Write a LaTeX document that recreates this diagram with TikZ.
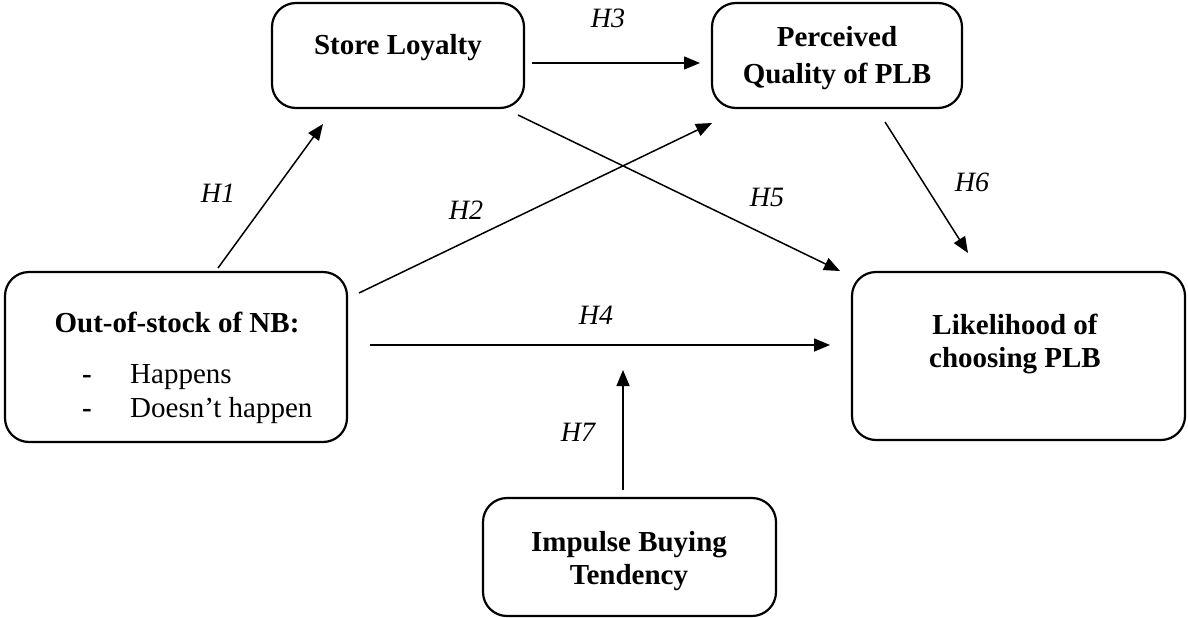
\documentclass[tikz,border=0pt]{standalone}
\usepackage{fontspec}
\setmainfont{Liberation Serif}
\usetikzlibrary{arrows.meta}
\begin{document}
\begin{tikzpicture}[x=1pt,y=-1pt,
  box/.style={draw, line width=2.2pt, rounded corners=24pt, inner sep=0pt},
  btext/.style={font=\fontsize{29}{33}\selectfont\bfseries, align=center, inner sep=0pt},
  ltext/.style={font=\fontsize{29}{33}\selectfont, inner sep=0pt},
  hlab/.style={font=\fontsize{28}{33}\selectfont\itshape, inner sep=0pt},
  arr/.style={line width=1.5pt, -{Triangle[length=16pt,width=13pt]}}]
\useasboundingbox (0,0) rectangle (1188,618);

% boxes
\node[box, minimum width=252pt, minimum height=105pt] (SL) at (398,55.5) {};
\node[btext, anchor=base] (SLt) at (398,55) {Store Loyalty};

\node[box, minimum width=250pt, minimum height=105pt] (PQ) at (837,55.5) {};
\node[btext] (PQt) at (837,58.5) {Perceived\\[4pt]Quality of PLB};

\node[box, minimum width=342pt, minimum height=170pt] (OOS) at (176,357) {};
\node[btext, anchor=base] (OOSt) at (177,332) {Out-of-stock of NB:};
\node[btext, anchor=base west] (d1) at (82,383) {-};
\node[btext, anchor=base west] (d2) at (82,417) {-};
\node[ltext, anchor=base west] (i1) at (130,383) {Happens};
\node[ltext, anchor=base west] (i2) at (130,417) {Doesn’t happen};

\node[box, minimum width=333pt, minimum height=168pt] (LK) at (1018.5,356) {};
\node[btext] (LKt) at (1015,344) {Likelihood of\\choosing PLB};

\node[box, minimum width=293pt, minimum height=118pt] (IB) at (629.5,557) {};
\node[btext] (IBt) at (629,561.5) {Impulse Buying\\Tendency};

% connector end points
\coordinate (h1s) at (218,268);  \coordinate (h1e) at (323,124);
\coordinate (h2s) at (359,293);  \coordinate (h2e) at (712,123);
\coordinate (h3s) at (532,63);   \coordinate (h3e) at (700,63);
\coordinate (h4s) at (370,345);  \coordinate (h4e) at (830,345);
\coordinate (h5s) at (518,115);  \coordinate (h5e) at (840,271);
\coordinate (h6s) at (885,122);  \coordinate (h6e) at (968,253);
\coordinate (h7s) at (623,490);  \coordinate (h7e) at (623,370);

\draw[arr] (h1s) -- (h1e);
\draw[arr] (h2s) -- (h2e);
\draw[arr] (h3s) -- (h3e);
\draw[arr] (h4s) -- (h4e);
\draw[arr] (h5s) -- (h5e);
\draw[arr] (h6s) -- (h6e);
\draw[arr] (h7s) -- (h7e);

% labels
\node[hlab] (H1) at (218,193) {H1};
\node[hlab] (H2) at (466,210) {H2};
\node[hlab] (H3) at (608,18) {H3};
\node[hlab] (H4) at (596,315) {H4};
\node[hlab] (H5) at (767,197) {H5};
\node[hlab] (H6) at (972,182) {H6};
\node[hlab] (H7) at (578,432) {H7};
\end{tikzpicture}
\end{document}
